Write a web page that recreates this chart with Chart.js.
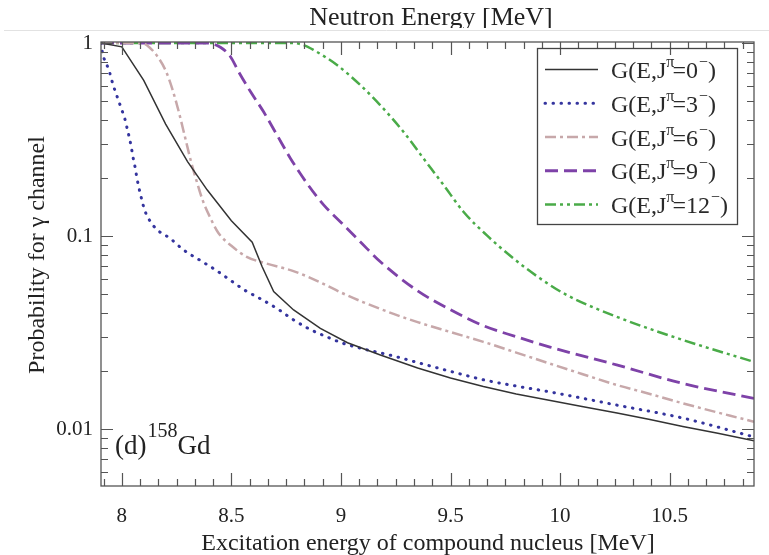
<!DOCTYPE html>
<html><head><meta charset="utf-8">
<script src="https://cdn.jsdelivr.net/npm/chart.js@4.4.1/dist/chart.umd.min.js"></script>
<style>html,body{margin:0;padding:0;background:#fff}canvas{display:block}</style>
</head><body>
<canvas id="c" width="769" height="555"></canvas>
<script>
// ---- data ----
const spinValues = ['0', '3', '6', '9', '12'];
const e0 = [7.905, 8.0, 8.1, 8.2, 8.3, 8.39, 8.5, 8.595, 8.64, 8.693, 8.784, 8.906, 9.03, 9.18, 9.35, 9.5, 9.65, 9.8, 9.95, 10.1, 10.26, 10.41, 10.56, 10.72, 10.885];
const p0 = [1.0, 0.955, 0.64, 0.38, 0.243, 0.173, 0.12, 0.093, 0.0695, 0.0515, 0.0414, 0.0332, 0.028, 0.0242, 0.0207, 0.0184, 0.0166, 0.0152, 0.0141, 0.0131, 0.0121, 0.0112, 0.0103, 0.0095, 0.0087];
const e3 = [7.905, 7.913, 7.929, 7.944, 7.956, 7.968, 7.984, 8.0, 8.014, 8.025, 8.035, 8.044, 8.052, 8.06, 8.068, 8.076, 8.086, 8.097, 8.11, 8.13, 8.16, 8.22, 8.28, 8.36, 8.43, 8.5, 8.56, 8.63, 8.71, 8.78, 8.86, 8.94, 9.01, 9.09, 9.24, 9.35, 9.5, 9.65, 9.8, 9.95, 10.26, 10.56, 10.885];
const p3 = [1.0, 0.874, 0.785, 0.705, 0.63, 0.571, 0.507, 0.45, 0.404, 0.358, 0.321, 0.285, 0.253, 0.229, 0.203, 0.182, 0.163, 0.145, 0.131, 0.119, 0.108, 0.0973, 0.085, 0.0745, 0.0665, 0.0585, 0.0525, 0.0475, 0.042, 0.037, 0.0328, 0.0299, 0.0278, 0.0262, 0.0239, 0.0221, 0.0199, 0.018, 0.0167, 0.0156, 0.0133, 0.0114, 0.0091];
const e6 = [7.905, 8.09, 8.13, 8.16, 8.2, 8.23, 8.26, 8.29, 8.315, 8.34, 8.37, 8.40, 8.44, 8.5, 8.57, 8.66, 8.78, 8.85, 8.92, 9.0, 9.1, 9.24, 9.35, 9.5, 9.65, 9.8, 9.95, 10.1, 10.26, 10.41, 10.56, 10.885];
const p6 = [1.0, 1.0, 0.94, 0.86, 0.72, 0.58, 0.44, 0.32, 0.245, 0.195, 0.152, 0.127, 0.104, 0.089, 0.078, 0.072, 0.066, 0.0615, 0.0565, 0.051, 0.0455, 0.0395, 0.0358, 0.0318, 0.0283, 0.0249, 0.0219, 0.0193, 0.0169, 0.0152, 0.0136, 0.0109];
const e9 = [7.905, 8.39, 8.45, 8.496, 8.533, 8.587, 8.647, 8.708, 8.769, 8.845, 8.921, 8.997, 9.088, 9.18, 9.35, 9.5, 9.65, 9.8, 9.954, 10.258, 10.562, 10.885];
const p9 = [1.0, 1.0, 0.95, 0.849, 0.71, 0.56, 0.44, 0.334, 0.253, 0.1875, 0.145, 0.1186, 0.0934, 0.0736, 0.052, 0.0415, 0.0343, 0.0301, 0.0266, 0.0215, 0.0172, 0.0144];
const e12 = [7.905, 8.78, 8.83, 8.875, 8.982, 9.088, 9.179, 9.285, 9.376, 9.468, 9.559, 9.665, 9.787, 9.908, 10.03, 10.258, 10.562, 10.885];
const p12 = [1.0, 1.0, 0.975, 0.92, 0.769, 0.606, 0.477, 0.347, 0.253, 0.184, 0.1336, 0.101, 0.0766, 0.0604, 0.0495, 0.0382, 0.0289, 0.0223];
const xTickValues = [8, 8.5, 9, 9.5, 10, 10.5];
const yTickValues = [1, 0.1, 0.01];

const FAMILY = "'Liberation Serif','Times New Roman',serif";
const pts = (xs, ys) => xs.map((v, i) => ({x: v, y: ys[i]}));

const styles = [
  {color: '#333333', width: 1.5, dash: [], cap: 'butt'},
  {color: '#34349e', width: 3, dash: [0.5, 7.5], cap: 'round'},
  {color: '#c7a8aa', width: 2.5, dash: [11, 4, 3, 4], cap: 'butt'},
  {color: '#7e42a8', width: 2.8, dash: [13, 6], cap: 'butt'},
  {color: '#4aab48', width: 2.5, dash: [11, 4, 3, 4, 3, 4], cap: 'butt'}
];
const series = [[e0, p0], [e3, p3], [e6, p6], [e9, p9], [e12, p12]];

const datasets = series.map((s, i) => ({
  label: 'G(E,J\u03c0=' + spinValues[i] + '\u2212)',
  data: pts(s[0], s[1]),
  borderColor: styles[i].color,
  borderWidth: styles[i].width,
  borderDash: styles[i].dash,
  borderCapStyle: styles[i].cap,
  pointRadius: 0,
  fill: false,
  cubicInterpolationMode: i === 0 ? 'default' : 'monotone',
  tension: 0
}));

const framePlugin = {
  id: 'frame',
  afterDatasetsDraw(chart) {
    const {ctx, chartArea: a, scales: {x, y}} = chart;
    ctx.save();
    ctx.strokeStyle = '#555';
    ctx.lineWidth = 1.3;
    ctx.strokeRect(a.left, a.top, a.right - a.left, a.bottom - a.top);
    ctx.lineWidth = 1.2;
    ctx.beginPath();
    for (let k = Math.ceil((x.min - 8) * 12); 8 + k / 12 <= x.max + 1e-9; k++) {
      const px = Math.round(x.getPixelForValue(8 + k / 12)) + 0.5;
      const L = (k % 6 === 0) ? 13 : 7;
      ctx.moveTo(px, a.bottom); ctx.lineTo(px, a.bottom - L);
      ctx.moveTo(px, a.top); ctx.lineTo(px, a.top + L);
    }
    for (let e = -3; e <= 0; e++) {
      for (let m = 1; m <= 9; m++) {
        const v = m * Math.pow(10, e);
        if (v < y.min || v > y.max) continue;
        const py = Math.round(y.getPixelForValue(v)) + 0.5;
        const L = m === 1 ? 12 : 7;
        ctx.moveTo(a.left, py); ctx.lineTo(a.left + L, py);
        ctx.moveTo(a.right, py); ctx.lineTo(a.right - L, py);
      }
    }
    ctx.stroke();
    ctx.restore();
  },
  afterDraw(chart) {
    const {ctx} = chart;
    ctx.save();
    ctx.fillStyle = '#222';
    // top title, cut off at the bottom
    ctx.save();
    ctx.beginPath(); ctx.rect(0, 0, 769, 28); ctx.clip();
    ctx.font = '26px ' + FAMILY;
    ctx.textAlign = 'center'; ctx.textBaseline = 'alphabetic';
    ctx.fillText('Neutron Energy [MeV]', 431, 25);
    ctx.restore();
    ctx.strokeStyle = '#e2e2e2'; ctx.lineWidth = 1;
    ctx.beginPath(); ctx.moveTo(4, 30.5); ctx.lineTo(769, 30.5); ctx.stroke();
    // axis titles
    ctx.font = '24px ' + FAMILY;
    ctx.textAlign = 'center'; ctx.textBaseline = 'middle';
    ctx.fillText('Excitation energy of compound nucleus [MeV]', 428, 544);
    ctx.save();
    ctx.translate(38, 255); ctx.rotate(-Math.PI / 2);
    ctx.fillText('Probability for \u03b3 channel', 0, 0);
    ctx.restore();
    // annotation (d) 158Gd
    ctx.textAlign = 'left'; ctx.textBaseline = 'alphabetic';
    let xx = 115;
    ctx.font = '27px ' + FAMILY;
    ctx.fillText('(d)', xx, 454); xx += ctx.measureText('(d)').width + 1;
    ctx.font = '20px ' + FAMILY;
    ctx.fillText('158', xx, 437); xx += ctx.measureText('158').width;
    ctx.font = '27px ' + FAMILY;
    ctx.fillText('Gd', xx, 454);
    // legend
    ctx.strokeStyle = '#444'; ctx.lineWidth = 1.3;
    ctx.strokeRect(537.5, 48.5, 200, 176);
    chart.data.datasets.forEach((ds, i) => {
      const yy = 69.5 + i * 33.75;
      ctx.save();
      ctx.strokeStyle = ds.borderColor; ctx.lineWidth = ds.borderWidth;
      ctx.setLineDash(ds.borderDash); ctx.lineCap = ds.borderCapStyle;
      ctx.beginPath(); ctx.moveTo(545, yy); ctx.lineTo(598, yy); ctx.stroke();
      ctx.restore();
      ctx.fillStyle = '#2a2a2a';
      const by = yy + 8.5;
      let tx = 611;
      ctx.font = '24px ' + FAMILY;
      ctx.fillText('G(E,J', tx, by); tx += ctx.measureText('G(E,J').width;
      ctx.font = '16px ' + FAMILY;
      ctx.fillText('\u03c0', tx, by - 11); tx += ctx.measureText('\u03c0').width - 2;
      ctx.font = '24px ' + FAMILY;
      const t2 = '=' + spinValues[i];
      ctx.fillText(t2, tx, by); tx += ctx.measureText(t2).width + 1;
      ctx.font = '16px ' + FAMILY;
      ctx.fillText('\u2212', tx, by - 11); tx += ctx.measureText('\u2212').width;
      ctx.font = '24px ' + FAMILY;
      ctx.fillText(')', tx, by);
    });
    ctx.restore();
  }
};

new Chart(document.getElementById('c'), {
  type: 'line',
  data: {datasets},
  options: {
    responsive: false,
    animation: false,
    devicePixelRatio: 1,
    layout: {padding: {left: 0, top: 42, right: 15, bottom: 0}},
    plugins: {legend: {display: false}, tooltip: {enabled: false}},
    scales: {
      x: {
        type: 'linear', min: 7.905, max: 10.885,
        afterBuildTicks: s => { s.ticks = xTickValues.map(v => ({value: v})); },
        afterFit: s => { s.height = 69; },
        ticks: {font: {family: FAMILY, size: 21}, color: '#222', padding: 18, maxRotation: 0, autoSkip: false, callback: v => String(v)},
        grid: {display: false, drawTicks: false},
        border: {display: false}
      },
      y: {
        type: 'logarithmic', min: 0.00507, max: 1.012,
        afterBuildTicks: s => { s.ticks = yTickValues.map(v => ({value: v})); },
        afterFit: s => { s.width = 101; },
        ticks: {font: {family: FAMILY, size: 21}, color: '#222', padding: 8, autoSkip: false, callback: v => String(v)},
        grid: {display: false, drawTicks: false},
        border: {display: false}
      }
    }
  },
  plugins: [framePlugin]
});
</script>
</body></html>
